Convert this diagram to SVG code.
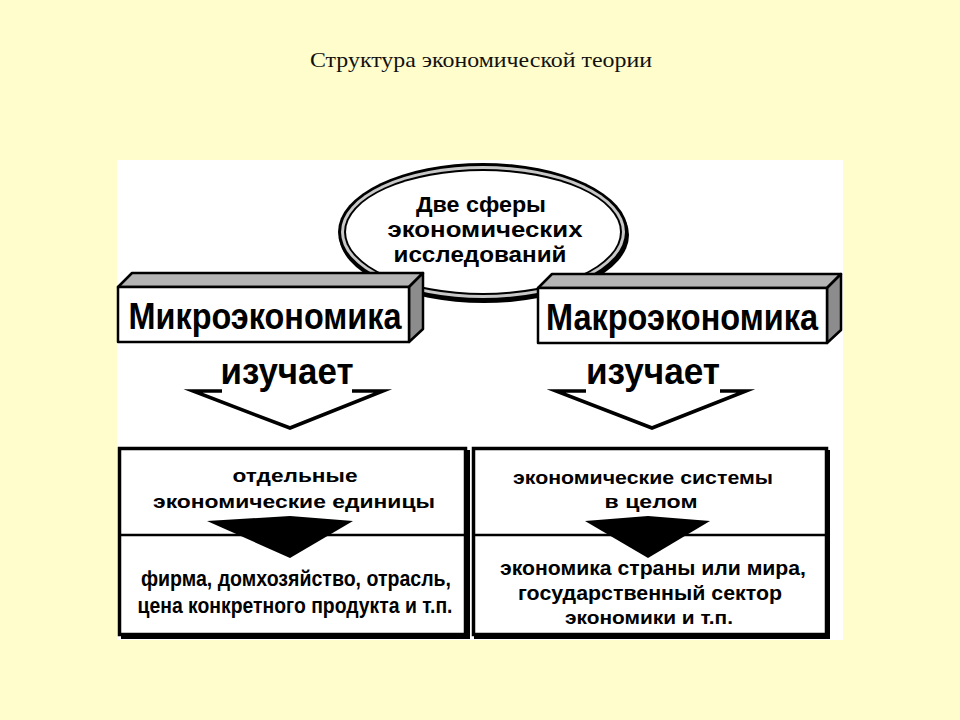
<svg xmlns="http://www.w3.org/2000/svg" width="960" height="720" viewBox="0 0 960 720">
<style>
.t{font-family:"Liberation Sans",Arial,sans-serif;font-weight:bold;fill:#000;text-anchor:middle}
.box{fill:#fff;stroke:#000;stroke-width:3.5}
.face{stroke:#000;stroke-width:2.5;stroke-linejoin:round}
.chev{fill:none;stroke:#000;stroke-width:3.5;stroke-linejoin:miter;stroke-miterlimit:10}
</style>
<rect width="960" height="720" fill="#FFFDCC"/>
<text x="481" y="67" font-family="'Liberation Serif','Times New Roman',serif" font-size="22" fill="#111" text-anchor="middle" textLength="342" lengthAdjust="spacingAndGlyphs">Структура экономической теории</text>
<rect x="117" y="160" width="726" height="480" fill="#fff"/>

<g id="center">
<ellipse cx="484" cy="235" rx="145" ry="68" fill="#000"/>
<ellipse cx="483" cy="232" rx="145" ry="69" fill="#000"/>
<ellipse cx="483" cy="232" rx="142" ry="66" fill="#c8c8c8"/>
<ellipse cx="483" cy="232" rx="139" ry="63" fill="#000"/>
<ellipse cx="483" cy="232" rx="137" ry="61" fill="#fff"/>
<text class="t" x="481" y="212" font-size="22" textLength="130" lengthAdjust="spacingAndGlyphs">Две сферы</text>
<text class="t" x="485" y="237" font-size="22" textLength="195" lengthAdjust="spacingAndGlyphs">экономических</text>
<text class="t" x="480" y="262" font-size="22" textLength="173" lengthAdjust="spacingAndGlyphs">исследований</text>
</g>

<g id="micro">
<polygon class="face" points="118,287 132,273 423,273 409,287" fill="#b4b4b4"/>
<polygon class="face" points="409,287 423,273 423,329 409,342" fill="#8c8c8c"/>
<rect class="face" x="118" y="287" width="291" height="55" fill="#fff"/>
<text class="t" x="265" y="329" font-size="37" textLength="273" lengthAdjust="spacingAndGlyphs">Микроэкономика</text>
</g>

<g id="macro">
<polygon class="face" points="538,288 552,274 841,274 827,288" fill="#b4b4b4"/>
<polygon class="face" points="827,288 841,274 841,330 827,343" fill="#8c8c8c"/>
<rect class="face" x="538" y="288" width="289" height="55" fill="#fff"/>
<text class="t" x="682" y="330" font-size="37" textLength="272" lengthAdjust="spacingAndGlyphs">Макроэкономика</text>
</g>

<g id="connectors">
<polyline class="chev" points="222,391 193,391 290,428 383,391 352,391"/>
<polyline class="chev" points="586,391 556,391 652,428 746,391 720,391"/>
</g>

<g id="micro-studies">
<text class="t" x="287" y="384" font-size="36" textLength="133" lengthAdjust="spacingAndGlyphs">изучает</text>
</g>
<g id="macro-studies">
<text class="t" x="653" y="384" font-size="36" textLength="134" lengthAdjust="spacingAndGlyphs">изучает</text>
</g>

<g id="micro-content">
<rect x="121" y="450" width="349" height="189" fill="#000"/>
<rect class="box" x="119.5" y="448.5" width="346" height="186"/>
<line x1="119" y1="535" x2="466" y2="535" stroke="#000" stroke-width="2.5"/>
<polygon points="207,521 290,516 353,521 290,558" fill="#000"/>
<text class="t" x="295" y="482" font-size="18" textLength="125" lengthAdjust="spacingAndGlyphs">отдельные</text>
<text class="t" x="294" y="508" font-size="18" textLength="282" lengthAdjust="spacingAndGlyphs">экономические единицы</text>
<text class="t" x="296" y="586" font-size="22" textLength="310" lengthAdjust="spacingAndGlyphs">фирма, домхозяйство, отрасль,</text>
<text class="t" x="295" y="613" font-size="22" textLength="315" lengthAdjust="spacingAndGlyphs">цена конкретного продукта и т.п.</text>
</g>

<g id="macro-content">
<rect x="474" y="450" width="356" height="189" fill="#000"/>
<rect class="box" x="473.5" y="448.5" width="353" height="186"/>
<line x1="473" y1="535" x2="827" y2="535" stroke="#000" stroke-width="2.5"/>
<polygon points="585,521 648,516 710,521 648,558" fill="#000"/>
<text class="t" x="643" y="484" font-size="18" textLength="260" lengthAdjust="spacingAndGlyphs">экономические системы</text>
<text class="t" x="651" y="508" font-size="18" textLength="93" lengthAdjust="spacingAndGlyphs">в целом</text>
<text class="t" x="653" y="575" font-size="20" textLength="306" lengthAdjust="spacingAndGlyphs">экономика страны или мира,</text>
<text class="t" x="650" y="600" font-size="20" textLength="264" lengthAdjust="spacingAndGlyphs">государственный сектор</text>
<text class="t" x="649" y="624" font-size="18" textLength="168" lengthAdjust="spacingAndGlyphs">экономики и т.п.</text>
</g>
</svg>
